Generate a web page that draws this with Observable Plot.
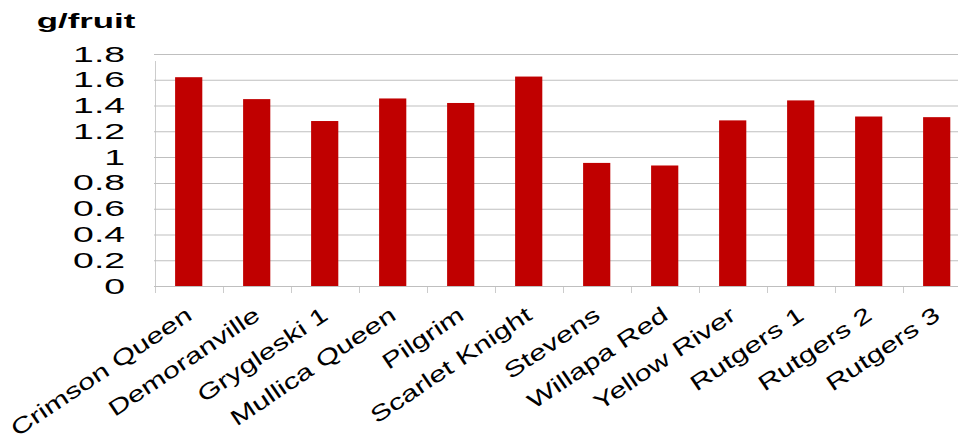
<!DOCTYPE html>
<html><head><meta charset="utf-8">
<script src="https://cdn.jsdelivr.net/npm/d3@7"></script>
<script src="https://cdn.jsdelivr.net/npm/@observablehq/plot@0.6"></script>
<style>body{margin:0;background:#fff;} #chart svg{display:block}</style>
</head><body><div id="chart"></div>
<script>
const categories = ["Crimson Queen","Demoranville","Grygleski 1","Mullica Queen","Pilgrim","Scarlet Knight","Stevens","Willapa Red","Yellow River","Rutgers 1","Rutgers 2","Rutgers 3"];
const values = [1.62,1.45,1.28,1.455,1.42,1.625,0.955,0.935,1.285,1.44,1.315,1.31];
const yTicks = [0,0.2,0.4,0.6,0.8,1,1.2,1.4,1.6,1.8];
const yTickLabels = ["0","0.2","0.4","0.6","0.8","1","1.2","1.4","1.6","1.8"];
const yLabel = "g/fruit";

const OUT_W = 958, OUT_H = 437, STRETCH = 1.7;
const W = OUT_W / STRETCH;
const left = 154 / STRETCH, right = 971 / STRETCH;
const step = (right - left) / categories.length;
const rows = categories.map((c, i) => ({category: c, value: values[i]}));

const svg = Plot.plot({
  width: W, height: OUT_H,
  marginLeft: left, marginRight: 0, marginTop: 54, marginBottom: OUT_H - 286,
  style: {fontFamily: "'Liberation Sans', Arial, sans-serif", fontSize: "22px", color: "#000", background: "#fff", overflow: "hidden"},
  x: {domain: categories, range: [left, right], paddingInner: 0.6, paddingOuter: 0.3, label: null},
  y: {domain: [0, 1.8], label: null},
  marks: [
    Plot.gridY(yTicks, {stroke: "#bfbfbf", strokeOpacity: 1}),
    Plot.barY(rows, {x: "category", y: "value", fill: "#c00000"}),
    Plot.ruleX(categories, {x: d => d, dx: -step / 2, y1: 0, y2: 0, insetBottom: -7, stroke: "#bfbfbf", strokeWidth: 1 / STRETCH}),
    Plot.ruleX([categories[0]], {x: d => d, dx: -step / 2, y1: 0, y2: 1.8, insetBottom: -7, stroke: "#bfbfbf", strokeWidth: 1 / STRETCH}),
    Plot.axisY(yTicks, {label: null, tickSize: 0, tickPadding: 17.5, fontSize: 22, tickFormat: d => yTickLabels[yTicks.indexOf(d)]}),
    Plot.axisX({label: null, tickSize: 0, tickPadding: 26, tickRotate: -34, fontSize: 22}),
    Plot.text([yLabel], {text: d => d, frameAnchor: "top-left", dx: 21.1 - left, dy: 27.5 - 54, lineAnchor: "bottom", textAnchor: "start", fontWeight: "bold", fontSize: 20.5})
  ]
});
svg.setAttribute("preserveAspectRatio", "none");
svg.setAttribute("width", OUT_W);
svg.setAttribute("height", OUT_H);
svg.style.width = OUT_W + "px";
svg.style.height = OUT_H + "px";
svg.style.maxWidth = "none";

// Undo the shear of the horizontal stretch on the rotated category labels
const th = 34 * Math.PI / 180, K = 1.38;
const ma = Math.cos(th) * K / STRETCH, mb = -Math.sin(th) * K, mc = Math.sin(th) / STRETCH, md = Math.cos(th);
d3.select(svg).selectAll('g[aria-label="x-axis tick label"] text').each(function() {
  const t = this.getAttribute("transform") || "";
  const m = /translate\(\s*([-\d.e]+)[,\s]+([-\d.e]+)\s*\)/.exec(t);
  if (m) this.setAttribute("transform", `matrix(${ma},${mb},${mc},${md},${m[1]},${m[2]})`);
});
document.getElementById("chart").appendChild(svg);
</script>
</body></html>
